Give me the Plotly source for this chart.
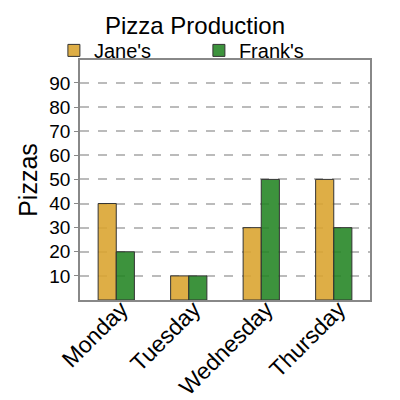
import plotly.graph_objects as go

days = ["Monday", "Tuesday", "Wednesday", "Thursday"]
jane = [40, 10, 30, 50]
frank = [20, 10, 50, 30]
y_ticks = [10, 20, 30, 40, 50, 60, 70, 80, 90]

fig = go.Figure()
fig.add_trace(go.Bar(x=days, y=jane, name="Jane's",
                     marker=dict(color="rgba(218,165,50,0.9)",
                                 line=dict(color="#333333", width=1))))
fig.add_trace(go.Bar(x=days, y=frank, name="Frank's",
                     marker=dict(color="rgba(34,132,34,0.88)",
                                 line=dict(color="#333333", width=1))))

# the page body adds an 8px offset, so margins are shifted up/left by 8
fig.update_layout(
    width=400, height=400,
    margin=dict(l=72, r=38, t=52, b=108, autoexpand=False),
    paper_bgcolor="white", plot_bgcolor="white",
    font=dict(family="Liberation Sans, Arial, sans-serif", color="black"),
    title=dict(text="Pizza Production", x=0.4675, xanchor="center",
               y=0.955, yanchor="middle", font=dict(size=24)),
    barmode="group", bargap=0.5, bargroupgap=0,
    showlegend=True,
    legend=dict(orientation="h", x=-0.09, xanchor="left", y=1.04, yanchor="middle",
                font=dict(size=20), entrywidth=100, entrywidthmode="pixels",
                itemwidth=30, tracegroupgap=0, bgcolor="rgba(0,0,0,0)"),
    xaxis=dict(tickangle=-45, tickfont=dict(size=23), showline=True,
               linecolor="#888888", linewidth=1.5, mirror=True, ticks="",
               ticklabelstandoff=-15, ticklabelshift=5, automargin=False),
    yaxis=dict(range=[0, 99.5], tickvals=y_ticks, tickfont=dict(size=19),
               title=dict(text="Pizzas", font=dict(size=25), standoff=5),
               showgrid=True, gridcolor="#bbbbbb", griddash="dash", gridwidth=1.5,
               showline=True, linecolor="#888888", linewidth=1.5, mirror=True,
               ticks="outside", ticklen=4, tickcolor="#888888", zeroline=False,
               automargin=False),
)

fig.write_html("out.html")
